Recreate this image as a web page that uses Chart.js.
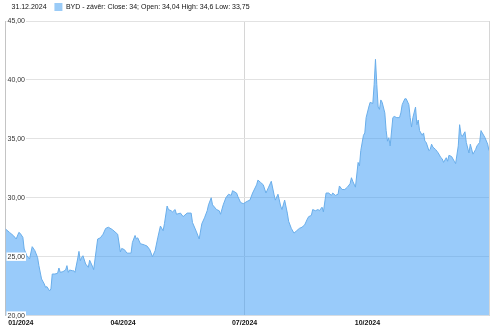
<!DOCTYPE html>
<html>
<head>
<meta charset="utf-8">
<script src="https://cdn.jsdelivr.net/npm/chart.js@4.4.1/dist/chart.umd.min.js"></script>
<style>
  html, body { margin: 0; padding: 0; background: #fff; }
  #wrap { width: 500px; height: 331px; }
</style>
</head>
<body>
<div id="wrap"><canvas id="c" width="500" height="331"></canvas></div>
<script>
// Day of year 2024 (0 = 1 Jan) for each point
const days = [3,6,9,11,13,14,16,17,19,21,23,25,27,28,30,32,33,34,36,37,38,40,42,43,44,46,48,49,50,51,53,54,55,57,58,59,60,61,63,65,66,68,69,72,74,76,78,80,83,85,87,89,90,92,94,97,98,100,101,102,104,107,109,111,113,115,117,119,121,122,124,125,127,128,130,131,134,136,139,142,143,146,148,150,152,154,155,157,158,161,163,164,166,168,170,172,173,176,177,179,181,184,186,188,191,192,194,196,198,200,202,204,205,207,209,210,212,214,215,217,219,221,223,225,227,229,230,232,233,235,237,238,240,241,243,245,247,248,250,252,253,255,257,259,261,262,263,265,267,268,269,271,272,273,275,276,278,279,280,281,282,283,284,285,287,288,289,290,291,293,294,296,298,299,300,302,303,305,306,307,308,310,311,312,313,315,316,317,318,320,321,322,323,325,327,329,330,331,333,334,335,337,339,340,342,343,344,345,347,348,350,351,353,355,356,358,359,360,362,364,365];
// Close prices (EUR)
const closes = [27.35,27.06,26.78,26.50,27.06,26.98,26.64,25.65,25.08,24.80,25.85,25.51,24.94,24.24,23.11,22.69,22.40,22.46,22.10,22.26,23.53,23.53,23.59,24.04,23.67,23.73,23.87,24.24,23.67,23.87,23.81,23.81,23.67,24.80,25.45,24.66,24.94,25.08,24.38,24.10,24.70,24.20,23.90,26.50,26.60,26.90,27.40,27.50,27.30,27.10,26.90,25.40,25.70,25.60,25.30,25.30,26.20,26.80,26.50,26.60,26.10,26.00,25.90,25.60,25.00,25.50,26.60,27.60,27.20,27.80,29.30,29.00,28.90,28.80,29.00,28.60,28.70,28.40,28.70,28.70,27.90,27.10,26.50,27.80,28.30,28.90,29.40,30.00,29.40,29.00,28.90,28.60,29.40,30.00,30.30,30.20,30.60,30.40,30.10,29.60,29.50,29.70,29.80,30.40,31.10,31.50,31.30,31.10,30.40,30.90,31.40,30.30,29.80,30.30,29.30,29.00,29.80,28.70,28.00,27.40,27.00,27.20,27.40,27.50,27.70,28.20,28.40,28.50,29.00,28.90,29.00,28.90,29.20,28.80,30.40,30.40,30.20,30.40,30.20,30.30,31.00,30.70,30.70,30.90,31.20,31.70,31.40,30.90,33.00,32.70,34.00,35.30,35.50,36.80,37.70,38.10,38.00,39.60,41.75,39.60,37.70,37.50,38.30,38.10,37.20,35.70,34.80,35.10,34.40,36.80,36.90,36.80,36.80,37.20,37.90,38.40,38.40,37.90,36.80,36.00,36.80,37.70,36.20,36.60,35.70,35.30,35.50,34.80,34.70,34.00,34.10,34.55,34.30,34.10,33.80,33.40,33.30,33.00,33.40,33.10,33.60,33.50,33.10,32.90,34.40,36.20,35.40,35.20,35.60,34.70,33.80,34.55,33.70,34.10,34.40,34.70,35.70,35.50,35.10,34.55,34.00];

// Axis ticks
const xTickDays = [5, 91, 182, 274, 365];
const xTickLabels = ['01/2024', '04/2024', '07/2024', '10/2024', ''];
const xGridDays = [182, 365];
const yTicks = [20, 25, 30, 35, 40, 45];

// Header texts
const dateLabel = '31.12.2024';
const seriesLabel = 'BYD - závěr: Close: 34; Open: 34,04 High: 34,6 Low: 33,75';

const FONT = "'Liberation Sans', Arial, sans-serif";
const fillCol = 'rgba(52,152,245,0.5)';
const boxCol = '#9acbf7';

new Chart(document.getElementById('c'), {
  type: 'line',
  data: {
    datasets: [{
      label: seriesLabel,
      data: days.map((d, i) => ({ x: d, y: closes[i] })),
      fill: 'start',
      backgroundColor: fillCol,
      borderColor: '#6aaeea',
      borderWidth: 1,
      pointRadius: 0,
      tension: 0
    }]
  },
  options: {
    responsive: false,
    animation: false,
    layout: { padding: { left: -4, right: 11, top: -1, bottom: 1 } },
    plugins: {
      tooltip: { enabled: false },
      legend: {
        position: 'top',
        align: 'start',
        labels: {
          boxWidth: 8,
          boxHeight: 8,
          padding: 4,
          color: '#111',
          font: { family: FONT, size: 7 },
          generateLabels: () => [
            { text: dateLabel + '  ', fillStyle: 'rgba(0,0,0,0)', strokeStyle: 'rgba(0,0,0,0)', lineWidth: 0, hidden: false, fontColor: '#111' },
            { text: seriesLabel, fillStyle: boxCol, strokeStyle: boxCol, lineWidth: 0, hidden: false, datasetIndex: 0, fontColor: '#111' }
          ]
        },
        onClick: () => {}
      }
    },
    scales: {
      x: {
        type: 'linear',
        min: 3,
        max: 365,
        afterBuildTicks: s => { s.ticks = xTickDays.map(v => ({ value: v })); },
        ticks: {
          autoSkip: false,
          maxRotation: 0,
          align: 'inner',
          padding: 3,
          color: '#111',
          font: { family: FONT, size: 7, weight: 'bold' },
          callback: v => xTickLabels[xTickDays.indexOf(v)]
        },
        grid: {
          drawTicks: false,
          color: c => (c.tick && xGridDays.includes(c.tick.value)) ? '#d6d6d6' : 'rgba(0,0,0,0)'
        },
        border: { display: false }
      },
      y: {
        min: 20,
        max: 45,
        afterBuildTicks: s => { s.ticks = yTicks.map(v => ({ value: v })); },
        afterFit: s => { s.width = 9.5; },
        ticks: {
          mirror: true,
          padding: 2,
          z: 1,
          showLabelBackdrop: true,
          backdropColor: '#ffffff',
          backdropPadding: { x: 1, y: 0 },
          color: '#333',
          font: { family: FONT, size: 7 },
          callback: v => v.toFixed(2).replace('.', ',')
        },
        grid: { drawTicks: false, color: '#e2e2e2' },
        border: { color: '#c4c4c4' }
      }
    }
  }
});
</script>
</body>
</html>
